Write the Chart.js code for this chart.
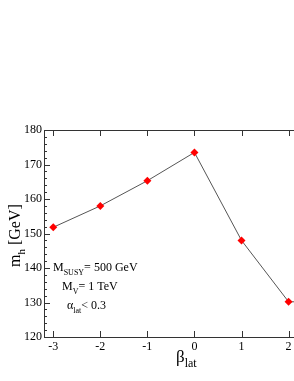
<!DOCTYPE html>
<html>
<head>
<meta charset="utf-8">
<script src="https://cdn.jsdelivr.net/npm/chart.js@4/dist/chart.umd.min.js"></script>
<style>
  html, body { margin: 0; padding: 0; background: #fff; overflow: hidden; }
  #wrap { position: relative; width: 310px; height: 381px; }
</style>
</head>
<body>
<div id="wrap"><canvas id="chart" width="310" height="381"></canvas></div>
<script>
// beta_lat values and the Higgs mass
const betaLat = [-3, -2, -1, 0, 1, 2, 3];
const higgsMass = [151.8, 158.0, 165.3, 173.5, 148.0, 130.2, 130.2];
const yTicks = [120, 130, 140, 150, 160, 170, 180];
const xTicks = [-3, -2, -1, 0, 1, 2];
const notes = ["M|SUSY|= 500 GeV", "M|V|= 1 TeV", "α|lat|< 0.3"];

const FONT = "'Liberation Serif', 'DejaVu Serif', serif";
const AXIS = "#333";

// draw "base_sub rest" text with a subscript
function drawSub(ctx, x, y, base, sub, rest, size) {
    ctx.font = size + "px " + FONT;
    ctx.fillText(base, x, y);
    x += ctx.measureText(base).width;
    ctx.font = Math.round(size * 0.7) + "px " + FONT;
    ctx.fillText(sub, x, y + size * 0.3);
    x += ctx.measureText(sub).width;
    ctx.font = size + "px " + FONT;
    ctx.fillText(rest, x, y);
}

const framePlugin = {
    id: "frame",
    afterDraw(chart) {
        const { ctx, chartArea: a, scales } = chart;
        const xs = scales.x, ys = scales.y;
        ctx.save();
        ctx.strokeStyle = AXIS;
        ctx.lineWidth = 1;
        ctx.strokeRect(a.left + 0.5, a.top + 0.5, a.right - a.left, a.bottom - a.top);
        ctx.beginPath();
        xTicks.forEach(v => {
            const px = Math.round(xs.getPixelForValue(v)) + 0.5;
            ctx.moveTo(px, a.bottom); ctx.lineTo(px, a.bottom - 6);
            ctx.moveTo(px, a.top); ctx.lineTo(px, a.top + 6);
        });
        for (let v = 120; v <= 180; v += 2) {
            const py = Math.round(ys.getPixelForValue(v)) + 0.5;
            const len = v % 10 === 0 ? 6 : 3;
            ctx.moveTo(a.left, py); ctx.lineTo(a.left + len, py);
        }
        ctx.stroke();

        ctx.fillStyle = "#000";
        ctx.textBaseline = "alphabetic";
        // annotations
        const pos = [[53, 271], [62, 290], [67, 309]];
        notes.forEach((t, i) => {
            const p = t.split("|");
            drawSub(ctx, pos[i][0], pos[i][1], p[0], p[1], p[2], 12);
        });
        // x title
        drawSub(ctx, 176, 362, "β", "lat", "", 17);
        // y title
        ctx.translate(20, 267);
        ctx.rotate(-Math.PI / 2);
        drawSub(ctx, 0, 0, "m", "h", " [GeV]", 16);
        ctx.restore();
    }
};

new Chart(document.getElementById("chart"), {
    type: "line",
    data: {
        datasets: [{
            data: betaLat.map((b, i) => ({ x: b, y: higgsMass[i] })),
            borderColor: "#555",
            borderWidth: 1,
            pointStyle: "rectRot",
            pointRadius: 4,
            pointBackgroundColor: "#ff0000",
            pointBorderColor: "#ff0000",
            pointBorderWidth: 0,
            tension: 0
        }]
    },
    plugins: [framePlugin],
    options: {
        responsive: false,
        animation: false,
        layout: { padding: { top: 130, right: 0, left: 0, bottom: 0 } },
        plugins: { legend: { display: false }, tooltip: { enabled: false } },
        scales: {
            x: {
                type: "linear",
                min: -3.196,
                max: 2.37,
                afterFit(s) { s.height = 44; },
                afterBuildTicks(s) { s.ticks = xTicks.map(v => ({ value: v })); },
                grid: { display: false, drawTicks: false },
                border: { display: false },
                ticks: {
                    padding: 3,
                    color: "#000",
                    font: { family: FONT, size: 12 },
                    callback: v => String(v)
                }
            },
            y: {
                min: 120,
                max: 180,
                afterFit(s) { s.width = 44; },
                afterBuildTicks(s) { s.ticks = yTicks.map(v => ({ value: v })); },
                grid: { display: false, drawTicks: false },
                border: { display: false },
                ticks: {
                    padding: 2,
                    color: "#000",
                    font: { family: FONT, size: 12 }
                }
            }
        }
    }
});
</script>
</body>
</html>
